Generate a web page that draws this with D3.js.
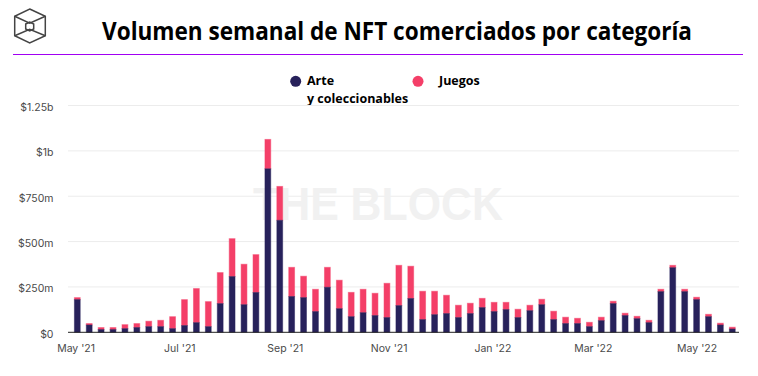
<!DOCTYPE html>
<html>
<head>
<meta charset="utf-8">
<script src="https://cdn.jsdelivr.net/npm/d3@7"></script>
<style>
  html, body { margin: 0; padding: 0; background: #fff; }
  svg { display: block; }
</style>
</head>
<body>
<div id="chart-area"></div>
<script>
var outerWidth = 758;
var outerHeight = 376;

// one bar a week, first one on 2 May 2021
var firstWeek = "2021-05-02";

// $ millions
var arte = [180, 40, 15, 15, 20, 26, 31, 31, 20, 37, 53, 31, 158, 307, 152, 219, 901, 617, 197,
  191, 114, 248, 130, 86, 108, 92, 81, 147, 186, 70, 97, 103, 81, 103, 136, 114, 125, 81,
  119, 152, 70, 48, 48, 31, 64, 158, 92, 75, 53, 224, 356, 224, 180, 86, 40, 18];
var total = [191, 48, 26, 26, 42, 48, 61, 66, 86, 180, 241, 169, 329, 516, 375, 428, 1063, 804, 358,
  309, 237, 358, 287, 220, 237, 215, 270, 369, 364, 226, 226, 204, 149, 160, 187, 165, 165, 127,
  149, 182, 116, 83, 77, 55, 83, 171, 105, 88, 66, 237, 369, 237, 193, 99, 50, 28];

var yTicks = [0, 250, 500, 750, 1000, 1250];
var yTickLabels = ["$0", "$250m", "$500m", "$750m", "$1b", "$1.25b"];
var xTicks = ["2021-05-01", "2021-07-01", "2021-09-01", "2021-11-01", "2022-01-01", "2022-03-01", "2022-05-01"];
var xTickLabels = ["May '21", "Jul '21", "Sep '21", "Nov '21", "Jan '22", "Mar '22", "May '22"];

var seriesNames = ["Arte", "Juegos"];
var colors = { dark: "#27215b", pink: "#f43f68" };

var parseDay = d3.utcParse("%Y-%m-%d");

var weeks = arte.map(function(d, i) {
  return d3.utcDay.offset(parseDay(firstWeek), i * 7);
});

var svg = d3.select("#chart-area")
  .append("svg")
  .attr("width", outerWidth)
  .attr("height", outerHeight);

// Header
svg.append("text")
  .attr("x", 397)
  .attr("y", 40)
  .attr("text-anchor", "middle")
  .attr("font-family", "'Open Sans', sans-serif")
  .attr("font-weight", 700)
  .attr("font-size", "25px")
  .attr("textLength", 590)
  .attr("lengthAdjust", "spacingAndGlyphs")
  .attr("fill", "#000")
  .text("Volumen semanal de NFT comerciados por categoría");

svg.append("line")
  .attr("x1", 13)
  .attr("x2", 743)
  .attr("y1", 54.5)
  .attr("y2", 54.5)
  .attr("stroke", "#a100f2")
  .attr("stroke-width", 1);

// Logo
var logo = svg.append("g")
  .attr("fill", "none")
  .attr("stroke", "#444")
  .attr("stroke-width", 1.5);

logo.append("path").attr("d", "M29.7 9L45.3 16.3V35.7L29.7 43L14.7 35.7V16.3Z");
logo.append("path").attr("d", "M14.7 16.3L29.7 23.3L45.3 16.3M14.7 35.7L29.7 29.3L45.3 35.7");
logo.append("path").attr("d", "M25.7 24L29.7 22L33.7 24V29L29.7 31L25.7 29Z");

// Legend
var legend = svg.append("g")
  .attr("font-family", "'Open Sans', sans-serif")
  .attr("font-weight", 700)
  .attr("font-size", "12.5px")
  .attr("fill", "#000");

legend.append("circle").attr("cx", 295.7).attr("cy", 81.3).attr("r", 5.5).attr("fill", colors.dark);
legend.append("text").attr("x", 307).attr("y", 85).text(seriesNames[0]);
legend.append("text").attr("x", 307).attr("y", 103).text("y coleccionables");
legend.append("circle").attr("cx", 418).attr("cy", 81.3).attr("r", 5.5).attr("fill", colors.pink);
legend.append("text").attr("x", 439).attr("y", 85).text(seriesNames[1]);

// Scales
var x = d3.scaleUtc()
  .domain([weeks[0], weeks[weeks.length - 1]])
  .range([77.3, 732.3]);

var y = d3.scaleLinear()
  .domain([0, 1250])
  .range([332.3, 105.5]);

// Left axis
var yAxis = d3.axisLeft(y)
  .tickValues(yTicks)
  .tickSize(0)
  .tickPadding(0)
  .tickFormat(function(d, i) {
    return yTickLabels[i];
  });

var yG = svg.append("g")
  .attr("transform", "translate(53.5,1.5)")
  .call(yAxis);

yG.select(".domain").remove();

yG.selectAll("text")
  .attr("font-family", "Inter, sans-serif")
  .attr("font-size", "10.5px")
  .attr("fill", "#4a4a4a");

// Grid
svg.append("g")
  .selectAll("line")
  .data(yTicks.slice(1))
  .enter()
  .append("line")
  .attr("x1", 68)
  .attr("x2", 739)
  .attr("y1", function(d) {
    return y(d);
  })
  .attr("y2", function(d) {
    return y(d);
  })
  .attr("stroke", "#ececec")
  .attr("stroke-width", 1);

// Watermark
svg.append("text")
  .attr("x", 378)
  .attr("y", 220)
  .attr("text-anchor", "middle")
  .attr("font-family", "'Liberation Sans', sans-serif")
  .attr("font-weight", 700)
  .attr("font-size", "46px")
  .attr("textLength", 250)
  .attr("lengthAdjust", "spacingAndGlyphs")
  .attr("fill", "#f1f1f1")
  .text("THE BLOCK");

// Bars
var barWidth = 5.8;

function drawBars(top, bottom, color) {
  svg.append("g")
    .selectAll("rect")
    .data(weeks)
    .enter()
    .append("rect")
    .attr("x", function(d) {
      return x(d) - barWidth / 2;
    })
    .attr("y", function(d, i) {
      return y(top[i]);
    })
    .attr("width", barWidth)
    .attr("height", function(d, i) {
      return y(bottom[i]) - y(top[i]);
    })
    .attr("fill", color)
    .attr("stroke", color)
    .attr("stroke-opacity", 0.5)
    .attr("stroke-width", 1);
}

drawBars(total, arte, colors.pink);
drawBars(arte, arte.map(function() { return 0; }), colors.dark);

// Bottom axis
var xAxis = d3.axisBottom(x)
  .tickValues(xTicks.map(parseDay))
  .tickSize(0)
  .tickPadding(12)
  .tickFormat(function(d, i) {
    return xTickLabels[i];
  });

var xG = svg.append("g")
  .attr("transform", "translate(0,332.3)")
  .call(xAxis);

xG.select(".domain").remove();

xG.selectAll("text")
  .attr("font-family", "Inter, sans-serif")
  .attr("font-size", "10.5px")
  .attr("fill", "#4a4a4a");

svg.append("line")
  .attr("x1", 68)
  .attr("x2", 739)
  .attr("y1", y(0))
  .attr("y2", y(0))
  .attr("stroke", "#222")
  .attr("stroke-width", 1);
</script>
</body>
</html>
